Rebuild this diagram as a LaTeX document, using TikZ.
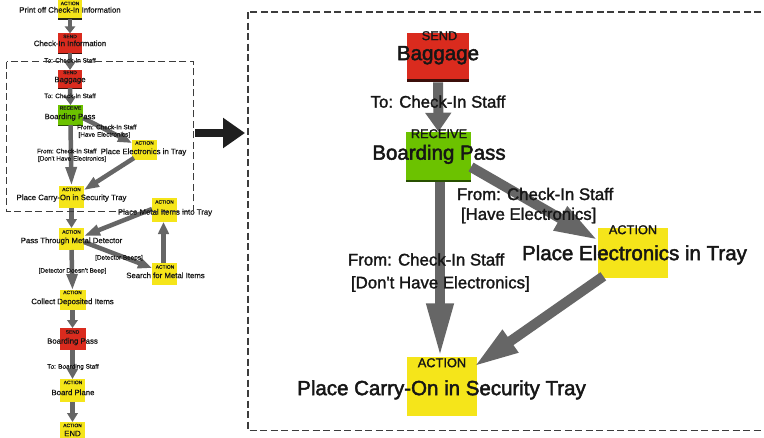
\documentclass[tikz,border=0pt]{standalone}
\usepackage{fontspec}
\setmainfont{Liberation Sans}
\newfontfamily\rfont{Liberation Sans}[FakeBold=2.2]
\newfontfamily\rmfont{Liberation Sans}[FakeBold=1.6]
\newfontfamily\sfontx{Liberation Sans}[FakeBold=0.6]
\usetikzlibrary{arrows.meta,calc}
\definecolor{boxred}{RGB}{218,43,30}
\definecolor{boxgreen}{RGB}{108,194,0}
\definecolor{boxyellow}{RGB}{245,229,26}
\definecolor{agray}{RGB}{102,102,102}
\definecolor{txt}{RGB}{22,22,22}
\definecolor{dashc}{RGB}{60,60,60}
\definecolor{rededge}{RGB}{60,15,10}
\definecolor{greenedge}{RGB}{40,80,0}
\definecolor{yellowedge}{RGB}{40,40,20}
\begin{document}
\begin{tikzpicture}[x=1pt,y=-1pt,
  box/.style={draw=none,inner sep=0pt,outer sep=0pt},
  redbox/.style={box,fill=boxred},
  greenbox/.style={box,fill=boxgreen},
  yellowbox/.style={box,fill=boxyellow},
  txtbase/.style={inner sep=0pt,outer sep=0pt,text=txt,anchor=mid},
  bigl/.style={txtbase,font=\rfont\fontsize{20.5}{24}\selectfont},
  medl/.style={txtbase,font=\rmfont\fontsize{16.8}{23.5}\selectfont,align=left},
  tagl/.style={txtbase,font=\rmfont\fontsize{12.8}{13}\selectfont},
  sbig/.style={txtbase,font=\sfontx\fontsize{7.8}{9}\selectfont},
  smed/.style={txtbase,font=\sfontx\fontsize{6.4}{8}\selectfont,align=left},
  stag/.style={txtbase,font=\sfontx\fontsize{4.9}{5}\selectfont},
  rarr/.style={draw=agray,line width=10pt,-{Triangle[length=#1,width=25pt]}},
  rarr/.default=20pt,
  larr/.style={draw=agray,line width=4.5pt,-{Triangle[length=#1,width=10.5pt]}},
  larr/.default=8pt,
  dashbox/.style={draw=dashc,line width=1.3pt,dash pattern=on 7pt off 3.5pt}
]
\clip (0,0) rectangle (764,437);
\useasboundingbox (0,0) rectangle (764,437);
\fill[white] (0,0) rectangle (764,437);

% ---------------- left flowchart: boxes ----------------
\node[yellowbox,minimum width=24pt,minimum height=21pt] (n1) at (70,8.5) {};
\node[redbox,minimum width=24pt,minimum height=20pt] (n2) at (70,43.3) {};
\node[redbox,minimum width=24pt,minimum height=18pt] (n3) at (70,79) {};
\node[greenbox,minimum width=25pt,minimum height=20pt] (n4) at (70.5,115) {};
\node[yellowbox,minimum width=25pt,minimum height=20pt] (n5) at (144.5,150) {};
\node[yellowbox,minimum width=25pt,minimum height=22pt] (n6) at (71.5,197) {};
\node[yellowbox,minimum width=25pt,minimum height=24pt] (n7) at (164.5,210) {};
\node[yellowbox,minimum width=25pt,minimum height=22pt] (n8) at (71.5,239) {};
\node[yellowbox,minimum width=25pt,minimum height=22pt] (n9) at (164.5,274) {};
\node[yellowbox,minimum width=26pt,minimum height=20pt] (n10) at (72.5,300) {};
\node[redbox,minimum width=26pt,minimum height=22pt] (n11) at (72.5,339) {};
\node[yellowbox,minimum width=25pt,minimum height=23pt] (n12) at (72.5,390.5) {};
\node[yellowbox,minimum width=25pt,minimum height=20pt] (n13) at (72.5,432) {};
\draw[yellowedge,line width=1.5pt] (n1.south west) -- (n1.south east);
\draw[rededge,line width=1.2pt] (n2.south west) -- (n2.south east);
\draw[rededge,line width=1pt] (n3.south west) -- (n3.south east);
\draw[greenedge,line width=0.8pt] (n4.south west) -- (n4.south east);

% ---------------- left flowchart: arrows ----------------
\draw[larr=7pt] (n1.south) -- (n2.north);
\draw[larr=8pt] (n2.south) -- (n3.north);
\draw[larr=8pt] (n3.south) -- (n4.north);
\draw[larr=19pt] (n4.south) -- (n6.north);
\draw[larr=14pt] ($(n4.east)+(0,3)$) -- ($(n5.west)+(0,-7)$);
\draw[larr=15pt] ($(n5.south west)+(2,-2)$) -- ($(n6.north east)+(0,4)$);
\draw[larr=9pt] (n6.south) -- (n8.north);
\draw[larr=14pt] ($(n8.east)+(0,3)$) -- ($(n9.west)+(0,-6)$);
\draw[larr=12pt] ($(n9.north)+(-1,0)$) -- ($(n7.south)+(-1,0)$);
\draw[larr=16pt] ($(n7.west)+(0,-1)$) -- ($(n8.east)+(0,-3)$);
\draw[larr=16pt] (n8.south) -- (n10.north);
\draw[larr=8pt] (n10.south) -- (n11.north);
\draw[larr=10pt] (n11.south) -- (n12.north);
\draw[larr=9pt] (n12.south) -- (n13.north);

% ---------------- left flowchart: texts ----------------
\node[stag] (t1) at (70,2.5) {ACTION};
\node[sbig] (l1) at (70,10) {Print off Check-In Information};
\node[stag] (t2) at (70,35.5) {SEND};
\node[sbig] (l2) at (70,43.5) {Check-In Information};
\node[smed] (e1) at (70,60) {To: Check-In Staff};
\node[stag] (t3) at (70,71.5) {SEND};
\node[sbig] (l3) at (70,79.5) {Baggage};
\node[smed] (e2) at (70,95.5) {To: Check-In Staff};
\node[stag] (t4) at (70.5,107) {RECEIVE};
\node[sbig] (l4) at (70,116.5) {Boarding Pass};
\node[smed,anchor=west] (e3a) at (77,127) {From: Check-In Staff};
\node[smed,anchor=west] (e3b) at (78.5,135) {[Have Electronics]};
\node[stag] (t5) at (144.5,142) {ACTION};
\node[sbig] (l5) at (143.5,151.5) {Place Electronics in Tray};
\node[smed,anchor=west] (e4a) at (37,151) {From: Check-In Staff};
\node[smed,anchor=west] (e4b) at (38,159) {[Don't Have Electronics]};
\node[stag] (t6) at (71.5,188.5) {ACTION};
\node[sbig] (l6) at (71.5,197.5) {Place Carry-On in Security Tray};
\node[stag] (t7) at (164.5,201) {ACTION};
\node[sbig] (l7) at (165,212) {Place Metal Items into Tray};
\node[stag] (t8) at (71.5,231) {ACTION};
\node[sbig] (l8) at (71.5,240.5) {Pass Through Metal Detector};
\node[smed] (e5) at (119,257) {[Detector Beeps]};
\node[smed] (e6) at (72.5,270) {[Detector Doesn't Beep]};
\node[stag] (t9) at (165,266) {ACTION};
\node[sbig] (l9) at (165.5,275.5) {Search for Metal Items};
\node[stag] (t10) at (72.5,291.5) {ACTION};
\node[sbig] (l10) at (72.5,301.5) {Collect Deposited Items};
\node[stag] (t11) at (72.5,331) {SEND};
\node[sbig] (l11) at (72.5,341) {Boarding Pass};
\node[smed] (e7) at (73,366) {To: Boarding Staff};
\node[stag] (t12) at (73,381.5) {ACTION};
\node[sbig] (l12) at (73,392.5) {Board Plane};
\node[stag] (t13) at (72.5,424.5) {ACTION};
\node[sbig] (l13) at (72.5,433.5) {END};

% left dashed frame
\draw[dashbox] (6.7,61.7) rectangle (193.3,211.5);

% ---------------- big arrow ----------------
\coordinate (ba) at (195,133);
\coordinate (bb) at (245,133);
\draw[draw=black!88,line width=8pt,-{Triangle[length=22pt,width=29pt]}] (ba) -- (bb);

% ---------------- right panel ----------------
\draw[dashbox] (248,12) rectangle (800,430.5);

\node[redbox,minimum width=62.6pt,minimum height=46pt] (r1) at (438,56.3) {};
\fill[rededge] (r1.south west) rectangle ($(r1.south east)+(0,3)$);
\node[greenbox,minimum width=65pt,minimum height=48.5pt] (r2) at (438.5,156) {};
\fill[greenedge] (r2.south west) rectangle ($(r2.south east)+(0,1.7)$);
\node[yellowbox,minimum width=70pt,minimum height=50pt] (r3) at (633.3,253.3) {};
\node[yellowbox,minimum width=70pt,minimum height=59pt] (r4) at (441.7,386.8) {};

\draw[rarr=19pt] ($(r1.south)+(0,3)$) -- (r2.north);
\draw[rarr=54pt] ($(r2.south)+(1.5,1.7)$) -- ($(r4.north)+(-1.7,0)$);
\draw[rarr=44pt] ($(r2.east)+(0,11)$) -- ($(r3.west)+(0,-13)$);
\draw[rarr=45pt] ($(r3.south west)+(5,-2)$) -- ($(r4.north east)+(-3,9.5)$);

\node[tagl] (rt1) at (439.5,37.5) {SEND};
\node[bigl] (rl1) at (438,57.5) {Baggage};
\node[medl] (re1) at (438,105) {To: Check-In Staff};
\node[tagl] (rt2) at (439,135.5) {RECEIVE};
\node[bigl] (rl2) at (439,157) {Boarding Pass};
\node[medl,anchor=west] (re2a) at (457,194) {From: Check-In Staff};
\node[medl,anchor=west] (re2b) at (461,215.5) {[Have Electronics]};
\node[tagl] (rt3) at (633,231.5) {ACTION};
\node[bigl] (rl3) at (634.5,257.5) {Place Electronics in Tray};
\node[medl,anchor=west] (re3a) at (348,259.5) {From: Check-In Staff};
\node[medl,anchor=west] (re3b) at (351,284) {[Don't Have Electronics]};
\node[tagl] (rt4) at (442,364.5) {ACTION};
\node[bigl] (rl4) at (441.5,392.5) {Place Carry-On in Security Tray};
\end{tikzpicture}
\end{document}
